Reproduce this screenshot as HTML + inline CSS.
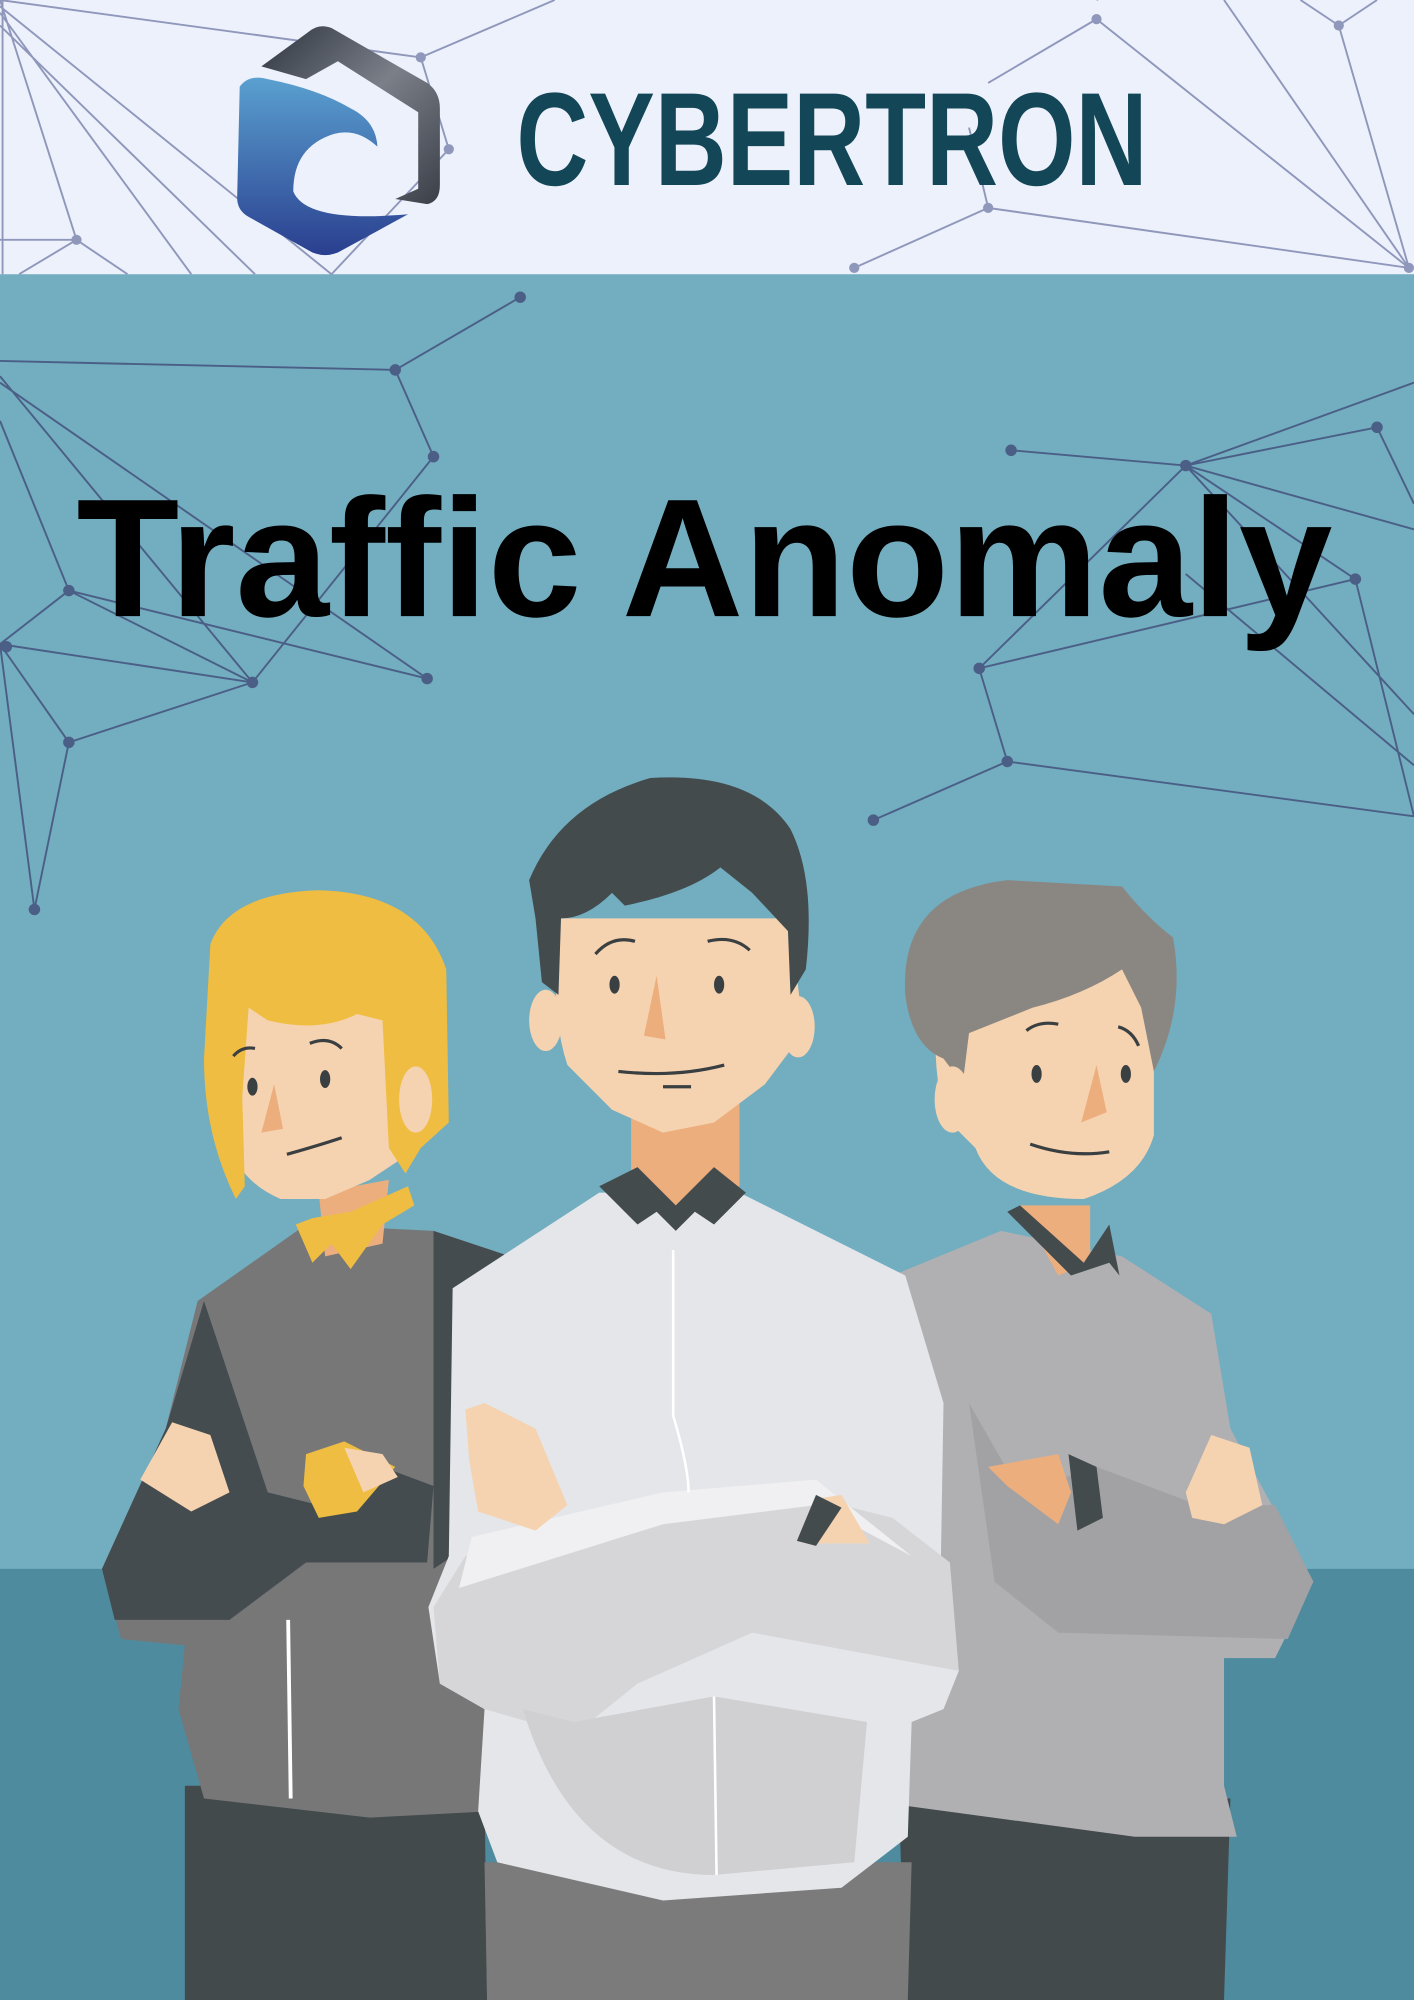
<!DOCTYPE html>
<html><head><meta charset="utf-8"><style>
html,body{margin:0;padding:0;background:#72adc0;}
svg{display:block}
</style></head><body>
<svg width="1414" height="2000" viewBox="0 0 1109 1568" preserveAspectRatio="none" xmlns="http://www.w3.org/2000/svg">
<!-- backgrounds -->
<rect x="0" y="0" width="1109" height="1568" fill="#72adc0"/>
<rect x="0" y="1230" width="1109" height="338" fill="#4f8b9f"/>
<rect x="0" y="0" width="1109" height="215" fill="#edf1fc"/>
<!-- top network lines -->
<g stroke="#8f97bb" stroke-width="1.5" fill="none">
<path d="M0 0 L330 45 L435 0"/><path d="M330 45 L352 117 L260 215"/>
<path d="M0 0 L60 188 M0 10 L150 215 M0 5 L260 215 M0 20 L200 215 M0 188 L60 188 L100 215 M60 188 L15 215"/>
<path d="M860 0 L880 -10 M860 15 L775 65 M860 15 L1105 210 M960 0 L1105 210 M1050 20 L1105 210 M1050 20 L1080 0 M1020 0 L1050 20"/>
<path d="M670 210 L775 163 L1105 210 M775 163 L760 100"/>
<path d="M2 0 L2 215"/>
</g>
<g fill="#8f97bb">
<circle cx="330" cy="45" r="4"/><circle cx="352" cy="117" r="4"/><circle cx="60" cy="188" r="4"/><circle cx="775" cy="163" r="4"/><circle cx="670" cy="210" r="4"/><circle cx="1050" cy="20" r="4"/><circle cx="1105" cy="210" r="4"/><circle cx="860" cy="15" r="4"/>
</g>
<!-- logo -->
<defs>
<linearGradient id="lg1" x1="0" y1="0" x2="0" y2="1"><stop offset="0" stop-color="#5aa0d0"/><stop offset="1" stop-color="#2a3f8f"/></linearGradient>
<linearGradient id="lg2" x1="0" y1="0" x2="1" y2="1"><stop offset="0" stop-color="#2f3540"/><stop offset="0.5" stop-color="#7a7f88"/><stop offset="1" stop-color="#3a3f48"/></linearGradient>
</defs>
<path d="M188 68 Q195 58 210 62 Q250 70 275 85 Q295 95 296 115 Q280 100 262 105 Q230 115 230 150 Q240 175 320 168 L265 198 Q255 202 245 198 L195 170 Q186 165 186 155 Z" fill="url(#lg1)"/>
<path d="M242 25 Q250 18 260 22 L335 65 Q345 72 345 85 L345 145 Q345 158 335 160 L310 156 L328 148 L328 88 L265 48 L240 62 L205 52 Z" fill="url(#lg2)"/>
<text x="405" y="145" font-family="Liberation Sans Narrow, Liberation Sans, sans-serif" font-weight="bold" font-size="104" fill="#134656" textLength="495" lengthAdjust="spacingAndGlyphs">CYBERTRON</text>
<!-- blue network -->
<g stroke="#4b5f86" stroke-width="1.5" fill="none">
<path d="M0 283 L310 290 L408 233 M310 290 L340 358 L198 535 M0 295 L198 535 M0 330 L54 463 L198 535 M0 505 L198 535 M0 505 L54 463 L335 532 M0 505 L54 582 L198 535 M54 582 L27 713 M0 505 L27 713 M0 300 L335 532"/>
<path d="M793 353 L930 365 L1080 335 L1109 395 M930 365 L1109 415 M930 365 L1063 454 L1109 640 M930 365 L768 524 L790 597 L1109 640 M790 597 L685 643 M930 365 L1109 560 M768 524 L1063 454 M930 365 L1109 300 M930 450 L1109 600"/>
</g>
<g fill="#4b5f86">
<circle cx="310" cy="290" r="4.5"/><circle cx="408" cy="233" r="4.5"/><circle cx="340" cy="358" r="4.5"/><circle cx="198" cy="535" r="4.5"/><circle cx="54" cy="463" r="4.5"/><circle cx="5" cy="507" r="4.5"/><circle cx="54" cy="582" r="4.5"/><circle cx="27" cy="713" r="4.5"/><circle cx="335" cy="532" r="4.5"/>
<circle cx="793" cy="353" r="4.5"/><circle cx="930" cy="365" r="4.5"/><circle cx="1080" cy="335" r="4.5"/><circle cx="1063" cy="454" r="4.5"/><circle cx="768" cy="524" r="4.5"/><circle cx="790" cy="597" r="4.5"/><circle cx="685" cy="643" r="4.5"/>
</g>
<text x="60" y="483" font-family="Liberation Sans, DejaVu Sans, sans-serif" font-weight="bold" font-size="132" fill="#000" textLength="985" lengthAdjust="spacingAndGlyphs">Traffic Anomaly</text>

<!-- RIGHT MAN -->
<path d="M705 1410 L965 1410 L960 1568 L710 1568 Z" fill="#424a4c"/>
<path d="M700 1000 L785 965 L880 985 L950 1030 L965 1120 L1030 1240 L1000 1300 L960 1300 L960 1400 L970 1440 L890 1440 L705 1415 Z" fill="#b0b0b2"/>
<path d="M700 1010 L760 1100 L780 1240 L830 1280 L1010 1285 L1030 1240 L1000 1180 L940 1180 L860 1150 L800 1170 L760 1100 Z" fill="#a2a2a4"/>
<path d="M800 945 L855 945 L855 990 L830 1000 Z" fill="#edae7e"/>
<path d="M790 950 L840 1000 L870 990 L878 1000 L870 960 L850 990 L800 945 Z" fill="#434b4d"/>
<path d="M735 790 L760 760 L895 760 L905 800 L905 890 Q895 925 850 940 Q780 940 765 900 L745 880 Q730 850 735 790 Z" fill="#f6d3b0"/>
<path d="M710 780 Q705 700 790 690 L880 695 Q900 720 920 735 Q930 790 905 840 L895 790 L880 760 Q850 780 810 790 L760 810 L755 850 L740 830 Q715 820 710 780 Z" fill="#8a8782"/>
<ellipse cx="747" cy="862" rx="14" ry="26" fill="#f6d3b0"/>
<ellipse cx="813" cy="842" rx="4" ry="7" fill="#3a3f42"/><ellipse cx="883" cy="842" rx="4" ry="7" fill="#3a3f42"/>
<path d="M805 808 Q815 800 830 803 M877 805 Q888 808 893 820 M808 897 Q840 908 870 903" stroke="#3a3f42" stroke-width="2.5" fill="none"/>
<path d="M860 835 L848 880 L868 872 Z" fill="#edae7e"/>
<path d="M775 1150 L830 1140 L840 1170 L830 1195 L790 1165 Z" fill="#edae7e"/>
<path d="M838 1140 L860 1150 L865 1190 L845 1200 Z" fill="#434b4d"/>
<path d="M930 1170 L950 1125 L980 1135 L990 1180 L960 1195 L935 1190 Z" fill="#f6d3b0"/>

<!-- LEFT WOMAN -->
<path d="M145 1400 L380 1400 L382 1568 L145 1568 Z" fill="#424a4c"/>
<path d="M155 1020 L240 960 L340 965 L400 985 L385 1420 L290 1425 L160 1410 L140 1340 L145 1290 L95 1285 L80 1230 L130 1120 Z" fill="#777778"/>
<path d="M160 1020 L210 1170 L250 1180 L300 1150 L340 1165 L335 1225 L240 1225 L180 1270 L90 1270 L80 1230 L130 1120 Z" fill="#444c4f"/>
<path d="M340 965 L400 985 L385 1200 L340 1230 Z" fill="#444c4f"/>
<path d="M250 935 L305 925 L300 975 L255 985 Z" fill="#edae7e"/>
<path d="M232 960 L245 990 L260 975 L275 995 L300 960 L325 945 L320 930 L275 950 L245 955 Z" fill="#eebd42"/>
<path d="M175 780 L300 790 L335 830 L320 905 L290 925 L255 940 L220 940 Q185 925 178 890 Q168 830 175 780 Z" fill="#f6d3b0"/>
<path d="M185 940 Q160 890 160 830 L165 740 Q180 700 250 698 Q330 700 350 760 L352 880 L330 900 L318 920 L305 900 L300 800 L280 795 Q250 810 210 800 L195 790 L190 860 L192 930 Z" fill="#eebd42"/>
<ellipse cx="326" cy="862" rx="13" ry="26" fill="#f6d3b0"/>
<ellipse cx="198" cy="852" rx="4" ry="7" fill="#3a3f42"/><ellipse cx="255" cy="846" rx="4" ry="7" fill="#3a3f42"/>
<path d="M183 828 Q190 820 200 822 M243 818 Q258 812 268 822 M225 905 Q250 898 268 892" stroke="#3a3f42" stroke-width="2.5" fill="none"/>
<path d="M215 850 L205 888 L222 885 Z" fill="#edae7e"/>
<path d="M110 1160 L135 1115 L165 1125 L180 1170 L150 1185 Z" fill="#f6d3b0"/>
<path d="M240 1140 L270 1130 L310 1150 L280 1185 L250 1190 L238 1165 Z" fill="#eebd42"/>
<path d="M270 1135 L300 1140 L312 1158 L285 1170 Z" fill="#f6d3b0"/>
<path d="M226 1270 L228 1410" stroke="#fff" stroke-width="3" fill="none"/>

<!-- MIDDLE MAN -->
<path d="M380 1460 L715 1460 L712 1568 L382 1568 Z" fill="#7b7b7b"/>
<path d="M355 1010 L470 935 L580 935 L710 1000 L740 1100 L738 1220 L752 1310 L740 1340 L715 1350 L712 1440 L660 1480 L520 1490 L390 1460 L375 1420 L380 1340 L345 1320 L336 1260 L352 1220 Z" fill="#e4e6ea"/>
<path d="M365 1220 L530 1180 L640 1175 L700 1190 L745 1225 L752 1310 L590 1280 L500 1320 L450 1360 L380 1340 L345 1320 L340 1260 Z" fill="#d6d6d8"/>
<path d="M360 1245 L520 1195 L640 1180 L715 1220 L640 1160 L520 1170 L370 1205 Z" fill="#f0f0f2"/>
<path d="M410 1340 Q450 1470 560 1470 L670 1460 L680 1350 L560 1330 L450 1350 Z" fill="#d0d0d2"/>
<path d="M495 865 L580 865 L580 930 L530 950 L495 930 Z" fill="#edae7e"/>
<path d="M470 930 L500 915 L530 945 L560 915 L585 935 L560 960 L545 950 L530 965 L515 950 L500 960 Z" fill="#434b4d"/>
<path d="M440 720 L620 720 L630 810 L600 850 L560 880 L520 888 L480 870 L445 835 Q430 790 440 720 Z" fill="#f6d3b0"/>
<path d="M415 690 Q440 630 510 610 Q590 605 620 650 Q640 690 632 760 L620 780 L618 730 L590 700 L565 680 Q540 700 490 710 L480 700 Q460 720 440 720 L438 780 L425 770 L420 720 Z" fill="#434b4d"/>
<ellipse cx="428" cy="800" rx="13" ry="24" fill="#f6d3b0"/><ellipse cx="626" cy="805" rx="13" ry="24" fill="#f6d3b0"/>
<ellipse cx="482" cy="772" rx="4" ry="7" fill="#3a3f42"/><ellipse cx="564" cy="772" rx="4" ry="7" fill="#3a3f42"/>
<path d="M467 748 Q480 733 498 738 M555 738 Q575 733 588 745 M485 840 Q530 845 568 835 M520 852 L542 852" stroke="#3a3f42" stroke-width="2.5" fill="none"/>
<path d="M515 765 L505 812 L522 815 Z" fill="#edae7e"/>
<path d="M365 1105 L380 1100 L420 1120 L445 1180 L420 1200 L375 1185 L368 1145 Z" fill="#f6d3b0"/>
<path d="M640 1175 L660 1172 L682 1210 L630 1210 Z" fill="#f6d3b0"/>
<path d="M640 1172 L660 1182 L640 1212 L625 1208 Z" fill="#434b4d"/>
<path d="M528 980 L528 1110 Q540 1150 540 1170 M560 1330 L562 1470" stroke="#fff" stroke-width="2" fill="none"/>
</svg>
</body></html>
